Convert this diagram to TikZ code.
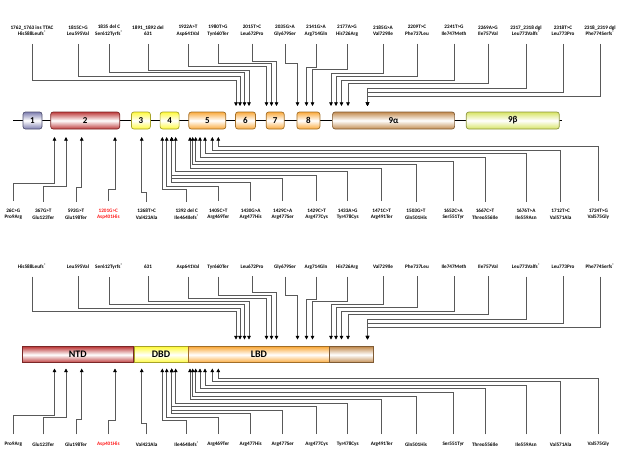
\documentclass[tikz,border=0pt]{standalone}
\usepackage{fontspec}
\setmainfont{Carlito}
\usetikzlibrary{arrows.meta,positioning,calc}

\definecolor{exgrey}{RGB}{125,125,175}
\definecolor{exred}{RGB}{190,60,60}
\definecolor{exyellow}{RGB}{255,250,60}
\definecolor{exorange}{RGB}{250,170,60}
\definecolor{extan}{RGB}{195,140,80}
\definecolor{exlime}{RGB}{215,228,100}
\definecolor{mutred}{RGB}{255,25,25}

\begin{document}
\begin{tikzpicture}[x=1pt,y=-1pt]
\tikzset{exon/.style={rounded corners=2.5pt,line width=0.7pt,minimum height=17pt,inner sep=0pt,
  font=\fontsize{9}{9}\selectfont\bfseries,top color=#1,bottom color=#1,middle color=white,draw=#1!65!black}}
\tikzset{domain/.style={line width=0.7pt,minimum height=16pt,inner sep=0pt,
  font=\fontsize{10}{10}\selectfont\bfseries,top color=#1,bottom color=#1,middle color=white,draw=#1!65!black}}
\tikzset{lbl/.style={font=\fontsize{5.2}{6.5}\selectfont\bfseries,align=center,inner sep=0pt}}
\tikzset{conn/.style={draw=black!65,line width=0.6pt,-{Triangle[length=3.6pt,width=3.6pt,color=black]}}}
\useasboundingbox (0,0) rectangle (624,467);

% gene: exons on the backbone
\coordinate (bbl) at (13,120.5);
\coordinate (bbr) at (562,120.5);
\draw[line width=1.8pt] (bbl) -- (bbr);
\node[exon=exgrey,minimum width=19pt] (e1) at (32.5,120.5) {1};
\node[exon=exred,minimum width=69pt,right=8pt of e1] (e2) {2};
\node[exon=exyellow,minimum width=19pt,right=11pt of e2] (e3) {3};
\node[exon=exyellow,minimum width=19pt,right=9pt of e3] (e4) {4};
\node[exon=exorange,minimum width=37pt,right=9pt of e4] (e5) {5};
\node[exon=exorange,minimum width=20pt,right=9pt of e5] (e6) {6};
\node[exon=exorange,minimum width=18pt,right=10pt of e6] (e7) {7};
\node[exon=exorange,minimum width=23pt,right=12pt of e7] (e8) {8};
\node[exon=extan,minimum width=122pt,right=12pt of e8] (e9a) {9α};
\node[exon=exlime,minimum width=93pt,right=11pt of e9a] (e9b) {9β};

% protein: domains
\node[domain=exred,minimum width=111pt] (ntd) at (77.8,354.7) {NTD};
\node[domain=exyellow,minimum width=54pt,right=0pt of ntd] (dbd) {DBD};
\node[domain=exorange,minimum width=140.4pt,right=0pt of dbd] (lbd) {LBD};
\node[domain=extan,minimum width=44pt,right=0pt of lbd] (cend) {};

% mutations above
\foreach \lx/\ey/\ax/\cdna/\prot [count=\i] in {
  32/80/236/{1762\_1763 ins TTAC}/{His588Leufs\textsuperscript{*}},
  78/76.5/240/{1815C>G}/{Leu595Val},
  109/72.5/244.5/{1835 del C}/{Ser612Tyrfs\textsuperscript{*}},
  148/70/249/{1891\_1892 del}/{631},
  188/66.5/266.5/{1922A>T}/{Asp641Val},
  218/63.5/271.5/{1980T>G}/{Tyr660Ter},
  252/61/276.5/{2015T>C}/{Leu672Pro},
  285/63.5/297.5/{2035G>A}/{Gly679Ser},
  316/67.5/306.5/{2141G>A}/{Arg714Gln},
  347/69.5/312.5/{2177A>G}/{His726Arg},
  383/73/331/{2185G>A}/{Val729Ile},
  417/76/336/{2209T>C}/{Phe737Leu},
  454/80/341.5/{2241T>G}/{Ile747Meth},
  488/83/348/{2269A>G}/{Ile757Val},
  526/88/367.5/{2317\_2318 dgl}/{Leu773Valfs\textsuperscript{*}},
  563/92/367.5/{2318T>C}/{Leu773Pro},
  600/96/367.5/{2318\_2319 dgl}/{Phe774Serfs\textsuperscript{*}}}{
  \node[lbl] (gt\i) at (\lx,30.5) {\cdna\\\prot};
  \node[lbl] (pt\i) at (\lx,266.7) {\prot};
  \coordinate (gta\i) at (\ax,106);
  \coordinate (pta\i) at (\ax,339.5);
  \draw[conn] ([yshift=-8pt]gt\i.south) -- (\lx,\ey) -| (gta\i);
  \draw[conn] ([yshift=-7.5pt]pt\i.south) -- (\lx,\ey+231.7) -| (pta\i);
}

% mutations below
\foreach \lx/\ey/\ax/\cdna/\prot/\tc [count=\i] in {
  13.3/183.5/54.5/{26C>G}/{Pro9Arg}/black,
  43.3/186/66/{367G>T}/{Glu123Ter}/black,
  76/187.5/81.7/{592G>T}/{Glu198Ter}/black,
  108.3/189/115/{1201G>C}/{Asp401His}/mutred,
  146.7/192/141.7/{1268T>C}/{Val423Ala}/black,
  186.7/189/162.3/{1392 del C}/{Ile464Ilefs\textsuperscript{*}}/black,
  218.3/186/166.7/{1405C>T}/{Arg469Ter}/black,
  250.7/182/171.7/{1430G>A}/{Arg477His}/black,
  282.7/178.5/171.7/{1429C>A}/{Arg477Ser}/black,
  316.7/175/171.7/{1429C>T}/{Arg477Cys}/black,
  347.7/171.5/175.7/{1433A>G}/{Tyr478Cys}/black,
  381.7/168/190/{1471C>T}/{Arg491Ter}/black,
  416/164.5/192.7/{1503G>T}/{Gln501His}/black,
  453.3/161/195.7/{1652C>A}/{Ser551Tyr}/black,
  485/157/200/{1667C>T}/{Threo556Ile}/black,
  526/153.5/205/{1676T>A}/{Ile559Asn}/black,
  560.7/150/212.3/{1712T>C}/{Val571Ala}/black,
  598.3/146.5/218.3/{1724T>G}/{Val575Gly}/black}{
  \node[lbl,text=\tc] (gb\i) at (\lx,214.3) {\cdna\\\prot};
  \node[lbl,text=\tc] (pb\i) at (\lx,444.5) {\prot};
  \coordinate (gba\i) at (\ax,137);
  \coordinate (pba\i) at (\ax,368.5);
  \draw[conn] ([yshift=7.5pt]gb\i.north) -- (\lx,\ey) -| (gba\i);
  \draw[conn] ([yshift=8pt]pb\i.north) -- (\lx,\ey+231.5) -| (pba\i);
}
\end{tikzpicture}
\end{document}
